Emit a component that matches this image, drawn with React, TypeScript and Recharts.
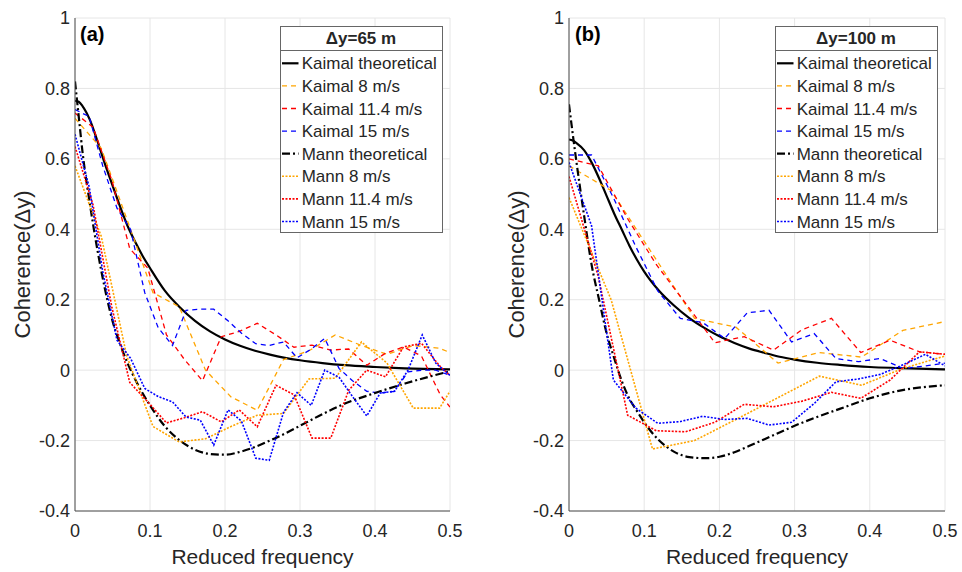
import React from 'react'
import { LineChart, Line, XAxis, YAxis, CartesianGrid, Label } from 'recharts'

// axis ticks
const xTicks = [0, 0.1, 0.2, 0.3, 0.4, 0.5]
const yTicks = [-0.4, -0.2, 0, 0.2, 0.4, 0.6, 0.8, 1]

// theoretical curves (fine grid)
const thFreq = [0, 0.005, 0.01, 0.02, 0.03, 0.04, 0.05, 0.06, 0.07, 0.08, 0.09, 0.1, 0.12, 0.14, 0.16, 0.18, 0.2, 0.22, 0.24, 0.26, 0.28, 0.3, 0.33, 0.36, 0.4, 0.44, 0.5]
const kaimalTheoA = [0.765, 0.762, 0.75, 0.71, 0.65, 0.585, 0.525, 0.465, 0.41, 0.365, 0.325, 0.29, 0.225, 0.178, 0.14, 0.11, 0.087, 0.069, 0.055, 0.044, 0.035, 0.028, 0.02, 0.014, 0.009, 0.005, 0.002]
const mannTheoA = [0.82, 0.72, 0.62, 0.47, 0.34, 0.23, 0.14, 0.075, 0.02, -0.025, -0.065, -0.1, -0.16, -0.2, -0.226, -0.238, -0.24, -0.232, -0.218, -0.2, -0.18, -0.158, -0.125, -0.095, -0.065, -0.038, -0.003]
const kaimalTheoB = [0.655, 0.652, 0.645, 0.625, 0.59, 0.545, 0.495, 0.445, 0.4, 0.355, 0.315, 0.28, 0.225, 0.183, 0.148, 0.12, 0.096, 0.077, 0.061, 0.049, 0.038, 0.03, 0.021, 0.015, 0.009, 0.006, 0.002]
const mannTheoB = [0.755, 0.67, 0.59, 0.44, 0.3, 0.2, 0.105, 0.035, -0.03, -0.08, -0.115, -0.148, -0.2, -0.232, -0.247, -0.25, -0.246, -0.233, -0.215, -0.196, -0.177, -0.158, -0.133, -0.11, -0.08, -0.058, -0.043]

// measured, dy = 65 m (reduced frequency step depends on wind speed)
const freq8A = [0, 0.035, 0.069, 0.104, 0.139, 0.174, 0.208, 0.243, 0.278, 0.312, 0.347, 0.382, 0.416, 0.451, 0.486, 0.5]
const kaimal8A = [0.715, 0.63, 0.43, 0.22, 0.18, 0.0, -0.076, -0.114, 0.03, 0.055, 0.1, 0.07, 0.045, 0.07, 0.062, 0.05]
const mann8A = [0.58, 0.38, 0.04, -0.16, -0.204, -0.195, -0.16, -0.128, -0.123, -0.025, -0.023, 0.08, 0.02, -0.108, -0.108, -0.06]
const freq11A = [0, 0.024, 0.049, 0.073, 0.097, 0.122, 0.146, 0.17, 0.195, 0.219, 0.243, 0.268, 0.292, 0.316, 0.341, 0.365, 0.389, 0.414, 0.438, 0.462, 0.487, 0.5]
const kaimal11A = [0.73, 0.69, 0.54, 0.345, 0.29, 0.1, 0.03, -0.03, 0.095, 0.11, 0.133, 0.1, 0.065, 0.071, 0.057, 0.06, 0.014, 0.048, 0.066, 0.04, -0.07, -0.105]
const mann11A = [0.635, 0.47, 0.18, -0.035, -0.09, -0.15, -0.135, -0.118, -0.147, -0.113, -0.161, -0.043, -0.07, -0.193, -0.193, -0.057, 0.0, -0.019, 0.066, 0.076, 0.01, -0.015]
const freq15A = [0, 0.019, 0.037, 0.056, 0.074, 0.093, 0.111, 0.13, 0.148, 0.167, 0.185, 0.204, 0.222, 0.241, 0.259, 0.278, 0.296, 0.315, 0.333, 0.352, 0.37, 0.389, 0.407, 0.426, 0.444, 0.463, 0.481, 0.5]
const kaimal15A = [0.74, 0.72, 0.58, 0.46, 0.4, 0.22, 0.12, 0.07, 0.17, 0.173, 0.173, 0.14, 0.105, 0.075, 0.07, 0.08, 0.035, 0.06, 0.09, 0.005, -0.03, -0.06, -0.065, -0.06, -0.005, 0.0, 0.0, -0.015]
const mann15A = [0.67, 0.52, 0.28, 0.085, 0.034, -0.052, -0.075, -0.09, -0.133, -0.142, -0.213, -0.113, -0.145, -0.25, -0.256, -0.12, -0.064, -0.1, 0.0, -0.02, -0.075, -0.13, -0.065, -0.06, 0.0, 0.1, 0.02, -0.015]

// measured, dy = 100 m
const freq8B = [0, 0.056, 0.111, 0.167, 0.222, 0.278, 0.333, 0.389, 0.444, 0.5]
const kaimal8B = [0.58, 0.51, 0.33, 0.147, 0.122, 0.02, 0.05, 0.037, 0.113, 0.138]
const mann8B = [0.49, 0.2, -0.224, -0.2, -0.14, -0.078, -0.017, -0.043, 0.005, 0.04]
const freq11B = [0, 0.039, 0.078, 0.116, 0.155, 0.194, 0.233, 0.272, 0.31, 0.349, 0.388, 0.427, 0.466, 0.5]
const kaimal11B = [0.6, 0.58, 0.43, 0.3, 0.19, 0.078, 0.095, 0.057, 0.115, 0.147, 0.05, 0.085, 0.052, 0.045]
const mann11B = [0.55, 0.265, -0.128, -0.172, -0.175, -0.148, -0.097, -0.104, -0.088, -0.063, -0.08, -0.028, 0.052, 0.045]
const freq15B = [0, 0.03, 0.059, 0.089, 0.118, 0.148, 0.178, 0.207, 0.237, 0.266, 0.296, 0.326, 0.355, 0.385, 0.414, 0.444, 0.474, 0.5]
const kaimal15B = [0.611, 0.611, 0.49, 0.35, 0.225, 0.147, 0.135, 0.09, 0.163, 0.17, 0.08, 0.104, 0.033, 0.024, 0.033, 0.005, 0.012, 0.02]
const mann15B = [0.59, 0.41, -0.028, -0.108, -0.151, -0.146, -0.131, -0.14, -0.137, -0.156, -0.148, -0.095, -0.033, -0.025, -0.012, 0.015, 0.045, 0.012]

const FONT = '"Liberation Sans", Arial, Helvetica, sans-serif'
const TEXT = '#262626'
const ORANGE = '#ffa500'
const RED = '#ff0000'
const BLUE = '#0000ff'

type Pt = { f: number; v: number }
const zip = (fs: number[], vs: number[]): Pt[] => fs.map((f, i) => ({ f, v: vs[i] }))

interface Series {
  name: string
  data: Pt[]
  color: string
  width: number
  dash?: string
  smooth?: boolean
}

const DASHED = '5 4'
const DOTTED = '2 1.5'
const DASHDOT = '8 3 2 3'

function makeSeries(kt: number[], mt: number[], k8: Pt[], k11: Pt[], k15: Pt[], m8: Pt[], m11: Pt[], m15: Pt[]): Series[] {
  return [
    { name: 'Kaimal theoretical', data: zip(thFreq, kt), color: '#000', width: 2.2, smooth: true },
    { name: 'Kaimal 8 m/s', data: k8, color: ORANGE, width: 1.3, dash: DASHED },
    { name: 'Kaimal 11.4 m/s', data: k11, color: RED, width: 1.3, dash: DASHED },
    { name: 'Kaimal 15 m/s', data: k15, color: BLUE, width: 1.3, dash: DASHED },
    { name: 'Mann theoretical', data: zip(thFreq, mt), color: '#000', width: 2.2, dash: DASHDOT, smooth: true },
    { name: 'Mann 8 m/s', data: m8, color: ORANGE, width: 1.6, dash: DOTTED },
    { name: 'Mann 11.4 m/s', data: m11, color: RED, width: 1.6, dash: DOTTED },
    { name: 'Mann 15 m/s', data: m15, color: BLUE, width: 1.6, dash: DOTTED },
  ]
}

const seriesA = makeSeries(kaimalTheoA, mannTheoA,
  zip(freq8A, kaimal8A), zip(freq11A, kaimal11A), zip(freq15A, kaimal15A),
  zip(freq8A, mann8A), zip(freq11A, mann11A), zip(freq15A, mann15A))
const seriesB = makeSeries(kaimalTheoB, mannTheoB,
  zip(freq8B, kaimal8B), zip(freq11B, kaimal11B), zip(freq15B, kaimal15B),
  zip(freq8B, mann8B), zip(freq11B, mann11B), zip(freq15B, mann15B))

interface PanelProps {
  left: number
  marginLeft: number
  marginRight: number
  series: Series[]
}

function Panel({ left, marginLeft, marginRight, series }: PanelProps) {
  return (
    <div style={{ position: 'absolute', left, top: 0 }}>
      <LineChart width={481} height={572} margin={{ top: 18, right: marginRight, bottom: 5, left: marginLeft }}>
        <CartesianGrid stroke="#e6e6e6" />
        <XAxis
          type="number"
          dataKey="f"
          domain={[0, 0.5]}
          ticks={xTicks}
          allowDataOverflow
          height={56}
          tickLine={false}
          tickSize={0}
          tickMargin={13}
          axisLine={{ stroke: '#4d4d4d' }}
          tick={{ fill: TEXT, fontSize: 18 }}
        >
          <Label value="Reduced frequency" position="insideBottom" offset={3} style={{ fill: TEXT, fontSize: 21 }} />
        </XAxis>
        <YAxis
          type="number"
          domain={[-0.4, 1]}
          ticks={yTicks}
          allowDataOverflow
          width={40}
          tickLine={false}
          tickSize={0}
          tickMargin={5}
          axisLine={{ stroke: '#4d4d4d' }}
          tick={{ fill: TEXT, fontSize: 18 }}
        />
        {series.map((s) => (
          <Line
            key={s.name}
            data={s.data}
            dataKey="v"
            name={s.name}
            type={s.smooth ? 'monotone' : 'linear'}
            stroke={s.color}
            strokeWidth={s.width}
            strokeDasharray={s.dash}
            dot={false}
            activeDot={false}
            isAnimationActive={false}
          />
        ))}
      </LineChart>
    </div>
  )
}

function LegendBox({ x, title, series }: { x: number; title: string; series: Series[] }) {
  const top = 26
  return (
    <g>
      <rect x={x + 0.5} y={top + 0.5} width={162} height={206} fill="#fff" stroke="#666" />
      <text x={x + 81} y={44} textAnchor="middle" fontSize={17} fontWeight="bold" fill={TEXT}>{title}</text>
      <line x1={x} x2={x + 162} y1={50.5} y2={50.5} stroke="#666" />
      {series.map((s, i) => {
        const cy = 63.3 + 22.6 * i
        return (
          <g key={s.name}>
            <line x1={x + 2} x2={x + 18.5} y1={cy} y2={cy} stroke={s.color} strokeWidth={s.width} strokeDasharray={s.dash} />
            <text x={x + 21.7} y={cy + 6.1} fontSize={17} fill={TEXT}>{s.name}</text>
          </g>
        )
      })}
    </g>
  )
}

export default function App() {
  return (
    <div style={{ position: 'absolute', left: 0, top: 0, width: 962, height: 572, background: '#fff', fontFamily: FONT }}>
      <Panel left={0} marginLeft={35} marginRight={31} series={seriesA} />
      <Panel left={481} marginLeft={48} marginRight={17} series={seriesB} />
      <svg width={962} height={572} style={{ position: 'absolute', left: 0, top: 0, pointerEvents: 'none', fontFamily: FONT }}>
        <text x={80} y={41} fontSize={20} fontWeight="bold" fill="#000">(a)</text>
        <text x={575} y={41} fontSize={20} fontWeight="bold" fill="#000">(b)</text>
        <text x={30} y={264.5} transform="rotate(-90, 30, 264.5)" textAnchor="middle" fontSize={22} fill={TEXT}>Coherence(Δy)</text>
        <text x={524} y={264.5} transform="rotate(-90, 524, 264.5)" textAnchor="middle" fontSize={22} fill={TEXT}>Coherence(Δy)</text>
        <LegendBox x={280} title="Δy=65 m" series={seriesA} />
        <LegendBox x={775} title="Δy=100 m" series={seriesB} />
      </svg>
    </div>
  )
}
